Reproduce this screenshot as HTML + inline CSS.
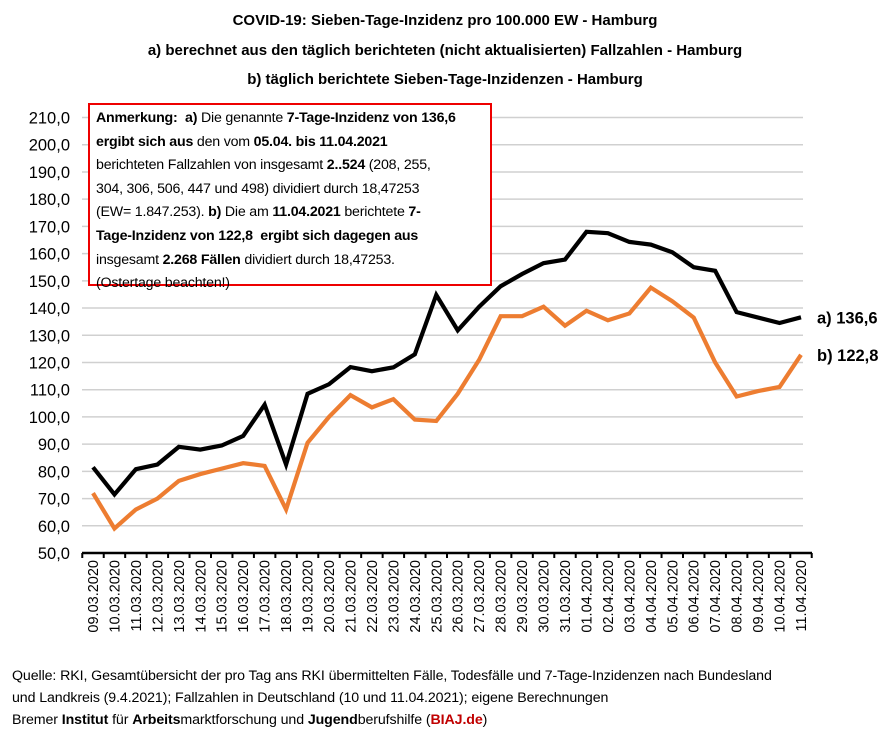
<!DOCTYPE html>
<html><head><meta charset="utf-8"><style>
body{margin:0;background:#fff;font-family:"Liberation Sans",Arial,sans-serif;}
#wrap{position:relative;width:890px;height:738px;overflow:hidden;background:#fff}
.t{position:absolute;left:0;width:890px;text-align:center;font-weight:bold;font-size:15px;color:#000}
#note{position:absolute;left:88px;top:103px;width:388px;height:175px;border:2px solid #e00;background:#fff;padding:2px 6px;font-size:14.2px;line-height:23.6px;color:#000;white-space:nowrap;letter-spacing:-0.2px}
#src{position:absolute;left:12px;top:665px;font-size:14.2px;line-height:22px;color:#000;white-space:nowrap;letter-spacing:-0.1px}
</style></head><body>
<div id="wrap">
<div class="t" style="top:12px">COVID-19: Sieben-Tage-Inzidenz pro 100.000 EW - Hamburg</div>
<div class="t" style="top:42px">a) berechnet aus den täglich berichteten (nicht aktualisierten) Fallzahlen - Hamburg</div>
<div class="t" style="top:71px">b) täglich berichtete Sieben-Tage-Inzidenzen - Hamburg</div>
<svg id="svg" width="890" height="738" style="position:absolute;left:0;top:0"></svg>
<div id="note"><b>Anmerkung:&nbsp; a)</b> Die genannte <b>7-Tage-Inzidenz von 136,6</b><br><b>ergibt sich aus</b> den vom <b>05.04. bis 11.04.2021</b><br>berichteten Fallzahlen von insgesamt <b>2..524</b> (208, 255,<br>304, 306, 506, 447 und 498) dividiert durch 18,47253<br>(EW= 1.847.253). <b>b)</b> Die am <b>11.04.2021</b> berichtete <b>7-</b><br><b>Tage-Inzidenz von 122,8</b>&nbsp; <b>ergibt sich dagegen aus</b><br>insgesamt <b>2.268 Fällen</b> dividiert durch 18,47253.<br>(Ostertage beachten!)</div>
<div id="src">Quelle: RKI, Gesamtübersicht der pro Tag ans RKI übermittelten Fälle, Todesfälle und 7-Tage-Inzidenzen nach Bundesland<br>und Landkreis (9.4.2021); Fallzahlen in Deutschland (10 und 11.04.2021); eigene Berechnungen<br>Bremer <b>Institut</b> für <b>Arbeits</b>marktforschung und <b>Jugend</b>berufshilfe (<b style="color:#c00000">BIAJ.de</b>)</div>
</div>
<script>
const categories=["09.03.2020","10.03.2020","11.03.2020","12.03.2020","13.03.2020","14.03.2020","15.03.2020","16.03.2020","17.03.2020","18.03.2020","19.03.2020","20.03.2020","21.03.2020","22.03.2020","23.03.2020","24.03.2020","25.03.2020","26.03.2020","27.03.2020","28.03.2020","29.03.2020","30.03.2020","31.03.2020","01.04.2020","02.04.2020","03.04.2020","04.04.2020","05.04.2020","06.04.2020","07.04.2020","08.04.2020","09.04.2020","10.04.2020","11.04.2020"];
const seriesA=[81.5,71.5,80.8,82.5,89,88,89.5,93,104.5,82.5,108.5,112,118.3,116.8,118.2,123,144.8,131.8,140.5,148,152.5,156.5,157.8,168,167.5,164.3,163.3,160.5,155,153.7,138.5,136.5,134.5,136.6];
const seriesB=[72,59,66,70,76.5,79,81,83,82,66,90.5,100,108,103.5,106.5,99,98.5,108.5,121,137,137,140.5,133.5,139,135.5,138,147.5,142.5,136.5,120,107.5,109.5,111,122.8];
const yTicks=[50,60,70,80,90,100,110,120,130,140,150,160,170,180,190,200,210];
const labelA="a) 136,6", labelB="b) 122,8";
const svg=document.getElementById('svg'),NS="http://www.w3.org/2000/svg";
const x0=93,x1=801,yMin=50,yMax=210,py0=553,py1=117.5;
const X=i=>x0+i*(x1-x0)/(categories.length-1);
const Y=v=>py0-(v-yMin)/(yMax-yMin)*(py0-py1);
function mk(t,a,p){const e=document.createElementNS(NS,t);for(const k in a)e.setAttribute(k,a[k]);(p||svg).appendChild(e);return e;}
yTicks.forEach(v=>{
 if(v>yMin){const g=mk('line',{x1:82,x2:803,y1:Y(v),y2:Y(v),stroke:'#d0d0d0','stroke-width':1.5});
 
 }
 const t=mk('text',{x:70,y:Y(v)+6,'text-anchor':'end','font-size':16.5,'font-family':'Liberation Sans, Arial, sans-serif'});
 t.textContent=v.toFixed(1).replace('.',',');
 
 
});
const ax=mk('line',{x1:82,x2:812,y1:py0,y2:py0,stroke:'#000','stroke-width':2.5});


const step=(x1-x0)/(categories.length-1);
for(let i=0;i<=categories.length;i++){mk('line',{x1:x0-step/2+i*step,x2:x0-step/2+i*step,y1:py0,y2:py0+5,stroke:'#000','stroke-width':2});}
categories.forEach((c,i)=>{
 const t=mk('text',{x:0,y:0,transform:`translate(${X(i)+5},${py0+7}) rotate(-90)`,'text-anchor':'end','font-size':14.5,'font-family':'Liberation Sans, Arial, sans-serif'});
 t.textContent=c;
 
 
});
function line(data,col,name){
 const p=mk('polyline',{points:data.map((v,i)=>X(i)+','+Y(v)).join(' '),fill:'none',stroke:col,'stroke-width':4.2,'stroke-linejoin':'miter'});
 
 
}
line(seriesB,'#ed7d31','series-b-line');
line(seriesA,'#000','series-a-line');
const n=categories.length-1;
[[labelA,seriesA[n],'label-a'],[labelB,seriesB[n],'label-b']].forEach(([s,v,nm])=>{
 const t=mk('text',{x:817,y:Y(v)+6,'font-size':16.5,'font-weight':'bold','font-family':'Liberation Sans, Arial, sans-serif'});
 t.textContent=s;
 
 
});
</script>
</body></html>
